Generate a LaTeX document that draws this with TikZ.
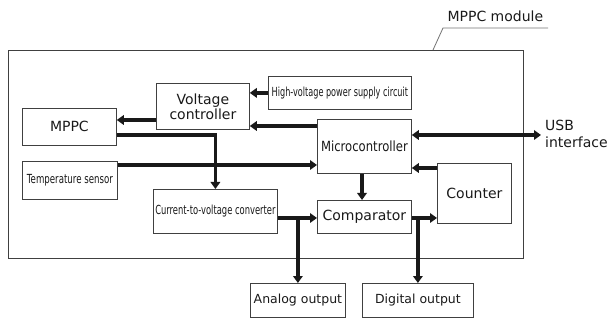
\documentclass[tikz,border=0pt]{standalone}
\usepackage{fontspec}
\setmainfont{DejaVu Sans}
\usetikzlibrary{arrows.meta}
\newcommand{\cnd}[2]{\scalebox{#1}[1]{#2}}
\begin{document}
\begin{tikzpicture}[x=1pt,y=-1pt,
  box/.style={draw=black!75, line width=0.8pt, inner sep=0pt, anchor=north west, align=center, text=black!90},
  big/.style={font=\fontsize{14}{16}\selectfont},
  mid/.style={font=\fontsize{12.5}{15}\selectfont},
  small/.style={font=\fontsize{12.5}{14}\selectfont},
  arr/.style={line width=3.6pt, black!90, -{Triangle[width=9.5pt,length=7pt]}},
  darr/.style={line width=3.6pt, black!90, {Triangle[width=9.5pt,length=7pt]}-{Triangle[width=9.5pt,length=7pt]}},
  thin/.style={draw=black!75, line width=0.8pt}]
\useasboundingbox (0,0) rectangle (610,320);
% module frame
\draw[thin] (8,50) rectangle (523,258);
\node[big, anchor=base west, text=black!90] (lbl) at (444,22) {MPPC module};
\coordinate (ul) at (443,28);
\coordinate (ur) at (548,28);
\coordinate (lf) at (433,50);
\draw[thin, draw=black!55] (ur) -- (ul) -- (lf);
% boxes
\node[box, big, minimum width=94, minimum height=37] (mppc) at (22,108) {MPPC};
\node[box, big, minimum width=93, minimum height=46] (vc) at (156,83) {Voltage\\[-1pt]controller};
\node[box, small, minimum width=143, minimum height=33] (hv) at (268,76) {\cnd{0.65}{High-voltage power supply circuit}};
\node[box, big, minimum width=94, minimum height=54] (mc) at (317,119) {\cnd{0.83}{Microcontroller}};
\node[box, small, minimum width=95, minimum height=38] (ts) at (22,161) {\cnd{0.69}{Temperature sensor}};
\node[box, small, minimum width=124, minimum height=44] (iv) at (153,189) {\cnd{0.67}{Current-to-voltage converter}};
\node[box, big, minimum width=94, minimum height=33] (cmp) at (317,200) {Comparator};
\node[box, big, minimum width=74, minimum height=60] (cnt) at (437,163) {Counter};
\node[box, mid, minimum width=95, minimum height=34] (ao) at (250,283) {Analog output};
\node[box, mid, minimum width=111, minimum height=34] (do) at (362,283) {Digital output};
\node[big, anchor=west, align=left, text=black!90, inner sep=0pt] (usb) at (545,134) {USB\\[1pt]interface};
\coordinate (usbend) at (541,135);
% connectors
\draw[arr] (hv.west) -- (vc.east |- hv.west);
\draw[arr] (vc.west |- 0,120) -- (mppc.east |- 0,120);
\draw[arr] (mc.west |- 0,126) -- (vc.east |- 0,126);
\draw[arr] (mppc.east |- 0,135) -| (iv.north);
\draw[arr] (ts.east |- 0,165) -- (mc.west |- 0,165);
\draw[arr] (cnt.west |- 0,168) -- (mc.east |- 0,168);
\draw[arr] (mc.south -| 362,0) -- (cmp.north -| 362,0);
\draw[darr] (mc.east |- usbend) -- (usbend);
\draw[arr] (iv.east |- 0,218) -- (cmp.west |- 0,218);
\draw[arr] (ao.north |- 0,218) -- (ao.north);
\draw[arr] (cmp.east |- 0,218) -- (cnt.west |- 0,218);
\draw[arr] (do.north |- 0,218) -- (do.north);
\end{tikzpicture}
\end{document}
